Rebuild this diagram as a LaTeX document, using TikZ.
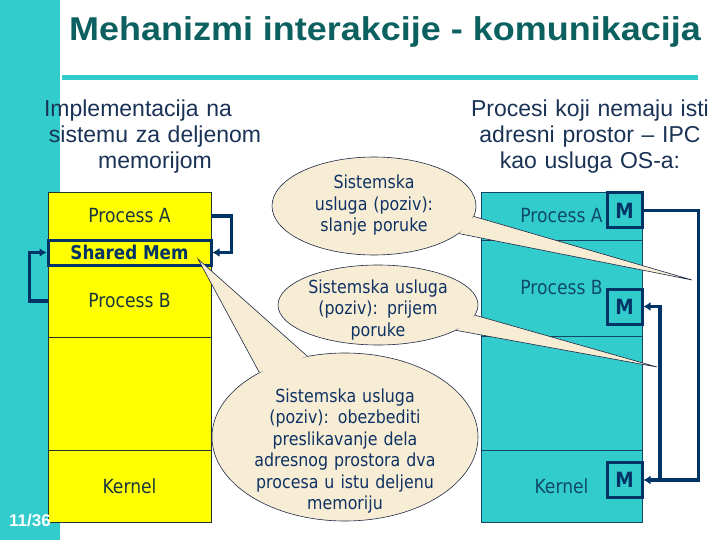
\documentclass[tikz,border=0pt]{standalone}
\usepackage{fontspec}
\setmainfont{Liberation Sans}
\newfontfamily\tfont[FakeStretch=0.88]{DejaVu Sans}
\newfontfamily\titlefont[FakeStretch=1.09]{Liberation Sans}
\usetikzlibrary{arrows.meta,shapes.geometric}
\definecolor{slideteal}{RGB}{51,204,204}
\definecolor{titleteal}{RGB}{13,96,96}
\definecolor{headnavy}{RGB}{25,50,85}
\definecolor{memyellow}{RGB}{255,255,0}
\definecolor{celledge}{RGB}{35,55,50}
\definecolor{celltext}{RGB}{25,55,60}
\definecolor{ipcedge}{RGB}{20,70,100}
\definecolor{ipctext}{RGB}{15,75,105}
\definecolor{linknavy}{RGB}{0,51,102}
\definecolor{bubblefill}{RGB}{247,237,212}
\definecolor{bubbleedge}{RGB}{30,40,70}
\definecolor{bubbletext}{RGB}{15,50,100}
\tikzset{
  cell/.style={rectangle, draw=celledge, fill=memyellow, line width=0.8pt, inner sep=0pt,
    minimum width=163, text=celltext, font=\tfont\fontsize{19.5}{22}\selectfont},
  ipccell/.style={rectangle, draw=ipcedge, fill=slideteal, line width=0.8pt, inner sep=0pt,
    minimum width=161, text=ipctext, font=\tfont\fontsize{19.5}{22}\selectfont},
  mbox/.style={rectangle, draw=linknavy, line width=3pt, inner sep=0pt, minimum size=35,
    text=linknavy, font=\tfont\bfseries\fontsize{21}{21}\selectfont},
  link/.style={draw=linknavy, line width=3.5pt, -{Latex[length=7pt,width=9pt]}},
  heading/.style={anchor=base, text=headnavy, text width=260, align=center,
    font=\fontsize{23}{26}\selectfont},
  bubble/.style={ellipse, draw=bubbleedge, fill=bubblefill, line width=0.6pt, inner sep=0pt},
  bubbletxt/.style={anchor=base, text=bubbletext, text width=240, align=center,
    font=\tfont\fontsize{18}{21.5}\selectfont},
  tail/.style={draw=bubbleedge, line width=0.6pt}
}
\begin{document}
\begin{tikzpicture}[x=1pt, y=-1pt]
\useasboundingbox (0,0) rectangle (720,540);
% slide frame
\fill[slideteal] (0,0) rectangle (60,540);
\fill[slideteal] (62,75) rectangle (698,80);
\node (title) at (385,41) [anchor=base, text=titleteal, font=\titlefont\bfseries\fontsize{33}{33}\selectfont] {Mehanizmi interakcije - komunikacija};

\node (headL) at (155,117) [heading] {Implementacija na\rule{34pt}{0pt}\\sistemu za deljenom\\memorijom};
\node (headR) at (590,117) [heading] {Procesi koji nemaju isti\\adresni prostor – IPC\\kao usluga OS-a:};

% shared memory column
\node (cellA) at (129.5,216) [cell, minimum height=48] {Process A};
\node (cellB) at (129.5,301) [cell, minimum height=72] {Process B};
\node (cellE) at (129.5,393.5) [cell, minimum height=113] {};
\node (cellK) at (129.5,486) [cell, minimum height=72] {Kernel};
\node (shm) at (129.5,252.5) [rectangle, draw=linknavy, fill=memyellow, line width=3pt, inner sep=0pt,
  minimum width=163, minimum height=25, text=linknavy, font=\tfont\bfseries\fontsize{19}{21}\selectfont] {Shared Mem};
\draw[link] (cellA.east) -- ++(20,0) |- (shm.east);
\draw[link] (cellB.west) -- ++(-18,0) |- (shm.west);

% IPC column
\node (ipcA) at (561.5,216) [ipccell, minimum height=48] {Process A};
\node (ipcB) at (561.5,288) [ipccell, minimum height=96] {Process B};
\node (ipcE) at (561.5,393) [ipccell, minimum height=114] {};
\node (ipcK) at (561.5,486) [ipccell, minimum height=72] {Kernel};
\node (mA) at (624.5,210.5) [mbox] {M};
\node (mB) at (624.5,306.5) [mbox] {M};
\node (mK) at (624.5,480) [mbox] {M};
\coordinate (split) at (660,480);
\draw[link] (mA.east) -- ++(55,0) |- (mK.east);
\draw[link] (split) |- (mB.east);

\node (pgnum) at (30,526) [anchor=base, text=white, font=\bfseries\fontsize{17}{17}\selectfont] {11/36};

% callouts
\node (bubSend) at (374,206) [bubble, minimum width=204, minimum height=98] {};
\coordinate (tipSend) at (692,280);
\fill[bubblefill] (tipSend) -- (bubSend.-6) -- (bubSend.-18) -- cycle;
\draw[tail] (bubSend.-6) -- (tipSend) -- (bubSend.-18);
\node (txtSend) at (374,189) [bubbletxt] {Sistemska\\usluga (poziv):\\slanje poruke};

\node (bubRecv) at (378,305) [bubble, minimum width=200, minimum height=80] {};
\coordinate (tipRecv) at (657,367);
\fill[bubblefill] (tipRecv) -- (bubRecv.-6.5) -- (bubRecv.-18.6) -- cycle;
\draw[tail] (bubRecv.-6.5) -- (tipRecv) -- (bubRecv.-18.6);
\node (txtRecv) at (378,293) [bubbletxt] {Sistemska usluga\\(poziv): prijem\\poruke};

\node (bubMap) at (345,437) [bubble, minimum width=266, minimum height=168] {};
\coordinate (tipMap) at (198,259);
\fill[bubblefill] (tipMap) -- (bubMap.143) -- (bubMap.115) -- cycle;
\draw[tail] (bubMap.143) -- (tipMap) -- (bubMap.115);
\node (txtMap) at (345,402) [bubbletxt] {Sistemska usluga\\(poziv): obezbediti\\preslikavanje dela\\adresnog prostora dva\\procesa u istu deljenu\\memoriju};
\end{tikzpicture}
\end{document}
